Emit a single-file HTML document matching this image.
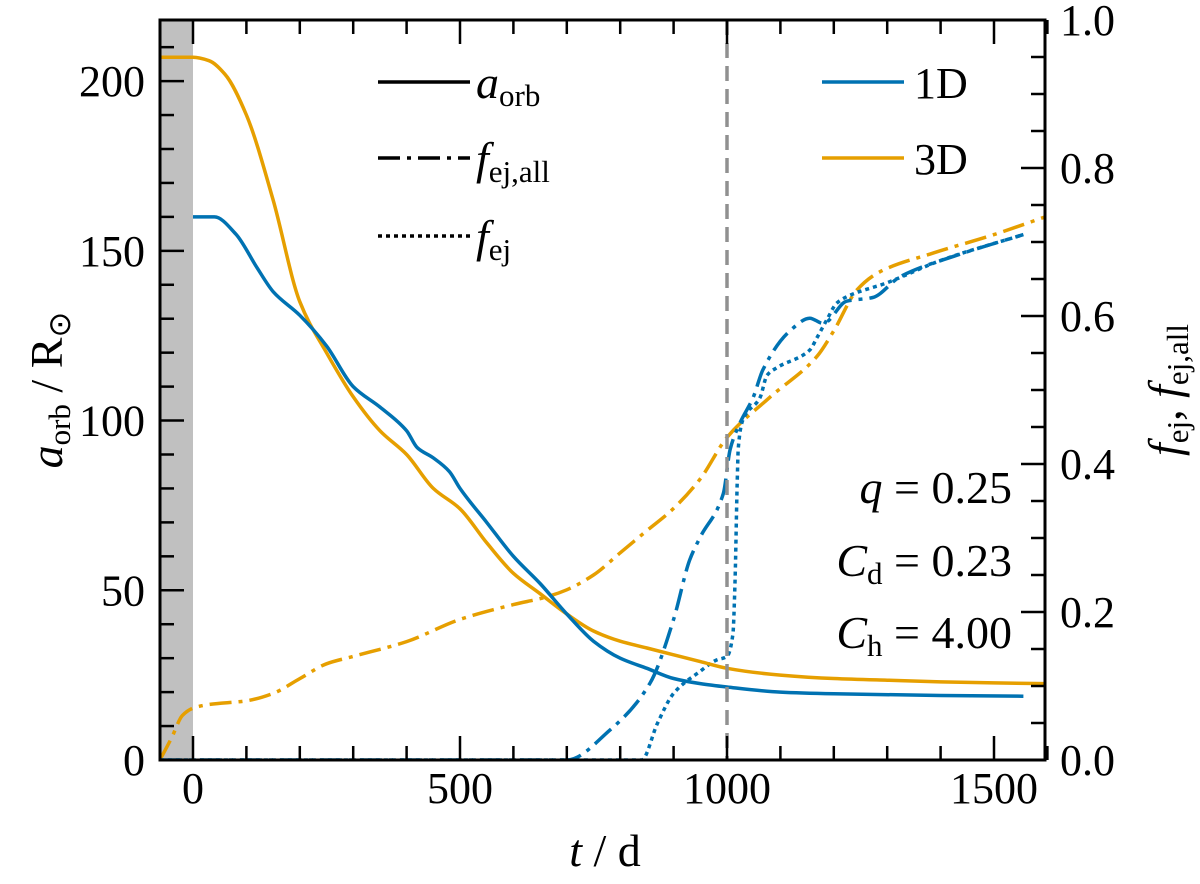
<!DOCTYPE html>
<html><head><meta charset="utf-8"><style>
body{margin:0;background:#fff}
svg{display:block;font-family:"Liberation Serif",serif}
</style></head><body>
<svg id="c" width="1200" height="884" xmlns="http://www.w3.org/2000/svg"></svg>
<script>
const t3a=[-62,0,30,60,100,150,200,250,300,350,400,450,500,550,600,650,700,750,800,850,900,950,1000,1100,1200,1300,1400,1500,1600];
const a3=[207,207,206,202,190,165,135,120,107,97,90,80,74,64,55,49,43,38,35,33,31,29,27,25,24,23.5,23,22.7,22.5];
const t1a=[0,40,80,120,150,200,250,300,350,400,420,450,480,500,550,600,650,700,750,800,850,900,950,1000,1100,1200,1400,1555];
const a1=[160,160,155,145,138,131,122,110,104,97,92,89,85,80,70,60,52,43,35,30,27,24,22.5,21.5,20,19.5,19,18.8];
const t3f=[-62,-40,-20,0,30,100,150,200,250,300,400,500,600,660,700,750,800,850,900,950,1000,1080,1168,1200,1243,1287,1386,1500,1600];
const f3=[0,0.03,0.06,0.07,0.075,0.08,0.09,0.11,0.13,0.14,0.16,0.19,0.21,0.22,0.23,0.25,0.28,0.31,0.34,0.38,0.436,0.49,0.545,0.58,0.635,0.66,0.685,0.71,0.735];
const t1f=[-62,700,780,856,900,930,949,993,1006,1024,1049,1067,1118,1155,1180,1224,1273,1324,1430,1555];
const f1=[0,0,0.04,0.104,0.19,0.27,0.30,0.36,0.42,0.455,0.49,0.527,0.58,0.597,0.59,0.62,0.625,0.653,0.682,0.71];
const t1e=[-62,840,870,900,950,980,1000,1011,1015,1019,1021,1030,1062,1075,1093,1155,1168,1187,1205,1224,1300,1400,1555];
const f1e=[0,0,0.05,0.09,0.12,0.135,0.14,0.17,0.24,0.37,0.42,0.46,0.49,0.52,0.53,0.554,0.57,0.595,0.617,0.626,0.645,0.675,0.71];
const xTicks=[0,500,1000,1500];
const yLTicks=[0,50,100,150,200];
const yRTicks=[0.0,0.2,0.4,0.6,0.8,1.0];

const L=160,R=1045,T=20,B=760;
const X=t=>193+(t)*0.534;
const YL=v=>760-v*(740/218);
const YR=v=>760-v*740;
const svg=document.getElementById('c');const NS='http://www.w3.org/2000/svg';
function el(tag,attrs,parent){const e=document.createElementNS(NS,tag);for(const k in attrs)e.setAttribute(k,attrs[k]);(parent||svg).appendChild(e);return e;}
const defs=el('defs',{});const cp=el('clipPath',{id:'clip'},defs);el('rect',{x:L,y:T,width:R-L,height:B-T},cp);
const shade=el('rect',{x:L,y:T,width:X(0)-L,height:B-T,fill:'#c0c0c0'});


const g=el('g',{'clip-path':'url(#clip)'});
// monotone cubic (Fritsch-Carlson) in x
function mono(P){const n=P.length;const dx=[],s=[];
for(let i=0;i<n-1;i++){dx[i]=P[i+1][0]-P[i][0];s[i]=(P[i+1][1]-P[i][1])/dx[i];}
const m=[s[0]];for(let i=1;i<n-1;i++){m[i]=(s[i-1]*s[i]<=0)?0:(dx[i-1]+dx[i])*3/((2*dx[i]+dx[i-1])/s[i-1]+(dx[i]+2*dx[i-1])/s[i]);}
m[n-1]=s[n-2];
let d='M'+P[0][0].toFixed(1)+','+P[0][1].toFixed(1);
for(let i=0;i<n-1;i++){const h=dx[i]/3;
d+='C'+(P[i][0]+h).toFixed(1)+','+(P[i][1]+m[i]*h).toFixed(1)+' '+(P[i+1][0]-h).toFixed(1)+','+(P[i+1][1]-m[i+1]*h).toFixed(1)+' '+P[i+1][0].toFixed(1)+','+P[i+1][1].toFixed(1);}
return d;}
function line(ts,vs,Y,color,dash,name){const P=ts.map((t,i)=>[X(t),Y(vs[i])]);
const p=el('path',{d:mono(P),fill:'none',stroke:color,'stroke-width':3.5,'stroke-dasharray':dash,'stroke-linejoin':'round'},g);

}
const O='#e69f00',Bl='#0072b2';
line(t3f,f3,YR,O,'22,7,4,7','fej-all-3d');
line(t1e,f1e,YR,Bl,'4,4','fej-1d');
line(t1f,f1,YR,Bl,'22,7,4,7','fej-all-1d');
line(t3a,a3,YL,O,'','aorb-3d');
line(t1a,a1,YL,Bl,'','aorb-1d');
const vl=el('line',{x1:X(1000),x2:X(1000),y1:T,y2:B,stroke:'#909090','stroke-width':3.5,'stroke-dasharray':'15,8'});


el('rect',{x:L,y:T,width:R-L,height:B-T,fill:'none',stroke:'#000','stroke-width':3});
for(let t=0;t<=1600;t+=100){const maj=t%500===0;const x=X(t);
el('line',{x1:x,x2:x,y1:B,y2:B-(maj?24:14),stroke:'#000','stroke-width':2.5});
el('line',{x1:x,x2:x,y1:T,y2:T+(maj?24:14),stroke:'#000','stroke-width':2.5});}
xTicks.forEach(t=>{const tx=el('text',{x:X(t),y:803,'font-size':44,'text-anchor':'middle'});tx.textContent=t;

});
for(let v=0;v<=210;v+=10){const y=YL(v);el('line',{x1:L,x2:L+(v%50===0?24:14),y1:y,y2:y,stroke:'#000','stroke-width':2.5});}
yLTicks.forEach(v=>{const tx=el('text',{x:145,y:YL(v)+15,'font-size':44,'text-anchor':'end'});tx.textContent=v;

});
for(let i=0;i<=20;i++){const v=i*0.05;const y=YR(v);el('line',{x1:R,x2:R-(i%4===0?24:14),y1:y,y2:y,stroke:'#000','stroke-width':2.5});}
yRTicks.forEach(v=>{const tx=el('text',{x:1060,y:YR(v)+15,'font-size':44,'text-anchor':'start'});tx.textContent=v.toFixed(1);

});
</script>
<svg width="1200" height="884" style="position:absolute;left:0;top:0" font-family="Liberation Serif, serif">
<text x="605" y="866" font-size="46" text-anchor="middle"><tspan font-style="italic">t</tspan> / d</text>
<text transform="translate(62,390) rotate(-90)" font-size="46" text-anchor="middle"><tspan font-style="italic">a</tspan><tspan font-size="31" dy="8">orb</tspan><tspan dy="-8"> / R</tspan><tspan font-size="31" dy="8">⊙</tspan></text>
<text transform="translate(1180,390) rotate(-90)" font-size="46" text-anchor="middle"><tspan font-style="italic">f</tspan><tspan font-size="31" dy="8">ej</tspan><tspan dy="-8">,  </tspan><tspan font-style="italic">f</tspan><tspan font-size="31" dy="8">ej,all</tspan></text>
<g>
<line x1="378" x2="470" y1="82" y2="82" stroke="#000" stroke-width="3.5"/>
<text x="476" y="98" font-size="46"><tspan font-style="italic">a</tspan><tspan font-size="31" dy="8">orb</tspan></text>
<line x1="378" x2="470" y1="158" y2="158" stroke="#000" stroke-width="3.5" stroke-dasharray="22,7,4,7"/>
<text x="476" y="174" font-size="46"><tspan font-style="italic">f</tspan><tspan font-size="31" dy="8">ej,all</tspan></text>
<line x1="378" x2="470" y1="236" y2="236" stroke="#000" stroke-width="3.5" stroke-dasharray="4,4"/>
<text x="476" y="252" font-size="46"><tspan font-style="italic">f</tspan><tspan font-size="31" dy="8">ej</tspan></text>
</g>
<g>
<line x1="822" x2="904" y1="82" y2="82" stroke="#0072b2" stroke-width="3.5"/>
<text x="914" y="98" font-size="44">1D</text>
<line x1="822" x2="904" y1="158" y2="158" stroke="#e69f00" stroke-width="3.5"/>
<text x="914" y="174" font-size="44">3D</text>
</g>
<g font-size="46" text-anchor="end">
<text x="1012" y="503"><tspan font-style="italic">q</tspan> = 0.25</text>
<text x="1012" y="576"><tspan font-style="italic">C</tspan><tspan font-size="31" dy="8">d</tspan><tspan dy="-8"> = 0.23</tspan></text>
<text x="1012" y="648"><tspan font-style="italic">C</tspan><tspan font-size="31" dy="8">h</tspan><tspan dy="-8"> = 4.00</tspan></text>
</g>
</svg>
</body></html>
